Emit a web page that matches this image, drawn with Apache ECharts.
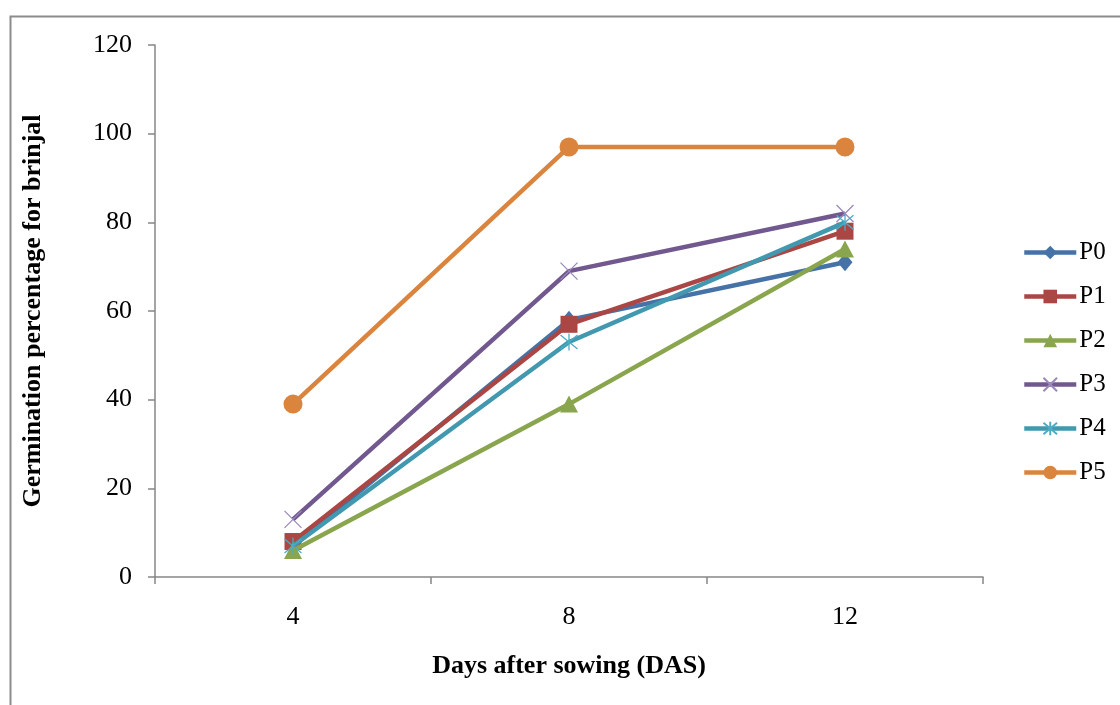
<!DOCTYPE html>
<html>
<head>
<meta charset="utf-8">
<script src="https://cdn.jsdelivr.net/npm/echarts@6/dist/echarts.min.js"></script>
<style>
html,body{margin:0;padding:0;background:#fff;}
#chart{width:1120px;height:705px;}
</style>
</head>
<body>
<div id="chart"></div>
<script>
const categories = ['4', '8', '12'];
const seriesNames = ['P0', 'P1', 'P2', 'P3', 'P4', 'P5'];
const P0 = [7, 58, 71];
const P1 = [8, 57, 78];
const P2 = [6, 39, 74];
const P3 = [13, 69, 82];
const P4 = [7, 53, 80];
const P5 = [39, 97, 97];
const yTicks = [0, 20, 40, 60, 80, 100, 120];

const values = [P0, P1, P2, P3, P4, P5];
const lineColors = ['#4572A7', '#AA4643', '#89A54E', '#71588F', '#4198AF', '#DB843D'];
const FONT = '"Liberation Serif", "Times New Roman", serif';

const markerDefs = [
  { symbol: 'diamond', symbolSize: [15, 18], itemStyle: { color: '#4572A7' } },
  { symbol: 'rect', symbolSize: 17, itemStyle: { color: '#AA4643' } },
  { symbol: 'triangle', symbolSize: [18, 17], itemStyle: { color: '#89A54E' } },
  { symbol: 'path://M0,0L10,10M10,0L0,10', symbolSize: 17, itemStyle: { color: 'transparent', borderColor: '#9C88BC', borderWidth: 1.3 } },
  { symbol: 'path://M0,0L10,10M10,0L0,10M5,-1L5,11', symbolSize: 17, itemStyle: { color: 'transparent', borderColor: '#4BACC6', borderWidth: 1.3 } },
  { symbol: 'circle', symbolSize: 19, itemStyle: { color: '#DB843D' } }
];

const series = seriesNames.map((name, i) => Object.assign({
  name: name,
  type: 'line',
  data: values[i],
  showAllSymbol: true,
  lineStyle: { color: lineColors[i], width: 4.5 },
  emphasis: { disabled: true },
  z: 2 + i
}, markerDefs[i]));

const chart = echarts.init(document.getElementById('chart'), null, { renderer: 'canvas' });
chart.setOption({
  animation: false,
  backgroundColor: '#ffffff',
  graphic: [{
    type: 'rect',
    shape: { x: 10.5, y: 16.5, width: 1200, height: 800 },
    style: { fill: 'none', stroke: '#8c8c8c', lineWidth: 2 },
    silent: true,
    z: -10
  }],
  grid: { left: 155, top: 45, width: 828, height: 532, containLabel: false },
  legend: {
    orient: 'vertical',
    left: 1022,
    top: 240,
    padding: 0,
    itemWidth: 52,
    itemHeight: 17,
    itemGap: 19,
    data: seriesNames,
    lineStyle: { width: 4.5 },
    textStyle: { fontFamily: FONT, fontSize: 25, color: '#000', padding: [0, 0, 0, -2] }
  },
  xAxis: {
    type: 'category',
    data: categories,
    boundaryGap: true,
    name: 'Days after sowing (DAS)',
    nameLocation: 'middle',
    nameGap: 76,
    nameTextStyle: { fontFamily: FONT, fontSize: 26, fontWeight: 'bold', color: '#000' },
    axisLine: { lineStyle: { color: '#868686', width: 1.5 } },
    axisTick: { show: true, inside: false, length: 7, alignWithLabel: false, lineStyle: { color: '#868686', width: 1.5 } },
    axisLabel: { fontFamily: FONT, fontSize: 26, color: '#000', margin: 27 },
    splitLine: { show: false }
  },
  yAxis: {
    type: 'value',
    min: 0,
    max: 120,
    interval: 20,
    name: 'Germination percentage for brinjal',
    nameLocation: 'middle',
    nameGap: 109,
    nameRotate: 90,
    nameTextStyle: { fontFamily: FONT, fontSize: 26, fontWeight: 'bold', color: '#000' },
    axisLine: { show: true, lineStyle: { color: '#868686', width: 1.5 } },
    axisTick: { show: true, inside: false, length: 7, lineStyle: { color: '#868686', width: 1.5 } },
    axisLabel: {
      fontFamily: FONT, fontSize: 26, color: '#000', margin: 23,
      formatter: function (v) { return yTicks.indexOf(v) >= 0 ? String(v) : ''; }
    },
    splitLine: { show: false }
  },
  series: series
});
</script>
</body>
</html>
